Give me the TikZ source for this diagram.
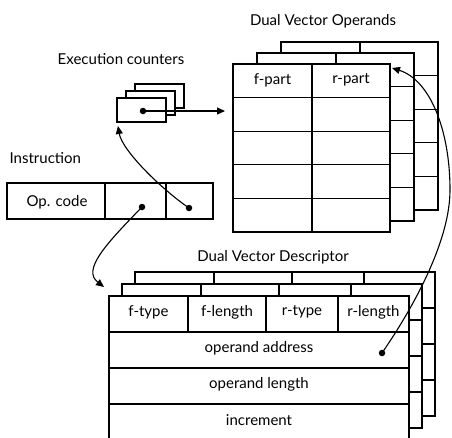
\documentclass[tikz,border=0pt]{standalone}
\usepackage{fontspec}
\setmainfont{Lato}
\usetikzlibrary{arrows.meta}
\begin{document}
\begin{tikzpicture}[x=1pt,y=-1pt,line width=1.2pt,
  lbl/.style={font=\fontsize{15}{17}\selectfont,inner sep=0pt},
  dotn/.style={circle,fill,inner sep=0pt,minimum size=6.5pt},
  arr/.style={-{Triangle[length=8pt,width=7pt]},line width=1.1pt},
  layer/.style={draw,fill=white}]
\useasboundingbox (0,0) rectangle (452,437);
\clip (0,0) rectangle (452,437);

% ---------- Dual Vector Operands (three layers) ----------
\foreach \dx/\dy in {48/-22,24/-11,0/0}{
  \begin{scope}[shift={(\dx,\dy)}]
    \draw[layer] (233,64) rectangle (390,232);
    \foreach \r in {97.6,131.2,164.8,198.4}{\draw (233,\r) -- (390,\r);}
    \draw (312,64) -- (312,232);
  \end{scope}
}
\node[lbl] (fpart) at (272.5,80) {f-part};
\node[lbl] (rpart) at (351,80) {r-part};
\node[lbl] (opstitle) at (323,21) {Dual Vector Operands};

% ---------- Execution counters ----------
\foreach \dx/\dy in {18/-14,9/-7,0/0}{
  \draw[layer,shift={(\dx,\dy)}] (117,98) rectangle (166,122);
}
\node[lbl] (ctrtitle) at (121,59) {Execution counters};

% ---------- Instruction ----------
\draw (7,183) rectangle (213,219);
\draw (105,183) -- (105,219);
\draw (166,183) -- (166,219);
\node[lbl] (opcode) at (57,202) {Op. code};
\node[lbl,anchor=west] (instr) at (9,158) {Instruction};

% ---------- Dual Vector Descriptor (three layers) ----------
\foreach \dx/\dy in {26/-24,13/-12,0/0}{
  \begin{scope}[shift={(\dx,\dy)}]
    \draw[layer] (109,296) rectangle (409,440);
    \foreach \r in {332,368,404}{\draw (109,\r) -- (409,\r);}
    \foreach \c in {188,266,338}{\draw (\c,296) -- (\c,332);}
  \end{scope}
}
\node[lbl] (desctitle) at (273,257) {Dual Vector Descriptor};
\node[lbl] (ftype) at (148.5,312) {f-type};
\node[lbl] (flength) at (227,312) {f-length};
\node[lbl] (rtype) at (302,312) {r-type};
\node[lbl] (rlength) at (373.5,312) {r-length};
\node[lbl] (oaddr) at (259,348) {operand address};
\node[lbl] (olen) at (259,384) {operand length};
\node[lbl] (incr) at (259,420) {increment};

% ---------- dots and connectors ----------
\node[dotn] (dctr) at (143,111) {};
\node[dotn] (dop1) at (142,207) {};
\node[dotn] (dop2) at (189,208) {};
\node[dotn] (daddr) at (382,353) {};
\coordinate (opsleft) at (225,111);
\coordinate (ctrin) at (118,126);
\coordinate (descin) at (104,287);
\coordinate (opsin) at (392,68);
\coordinate (via) at (450,190);

\draw[arr] (dctr.center) -- (opsleft);
\draw[arr] (dop2.center) .. controls (160,188) and (122,150) .. (ctrin);
\draw[arr] (dop1.center) .. controls (105,245) and (82,270) .. (descin);
\draw[arr] (daddr.center) .. controls (415,305) and (450,240) .. (via)
   .. controls (450,130) and (430,80) .. (opsin);
\end{tikzpicture}
\end{document}
